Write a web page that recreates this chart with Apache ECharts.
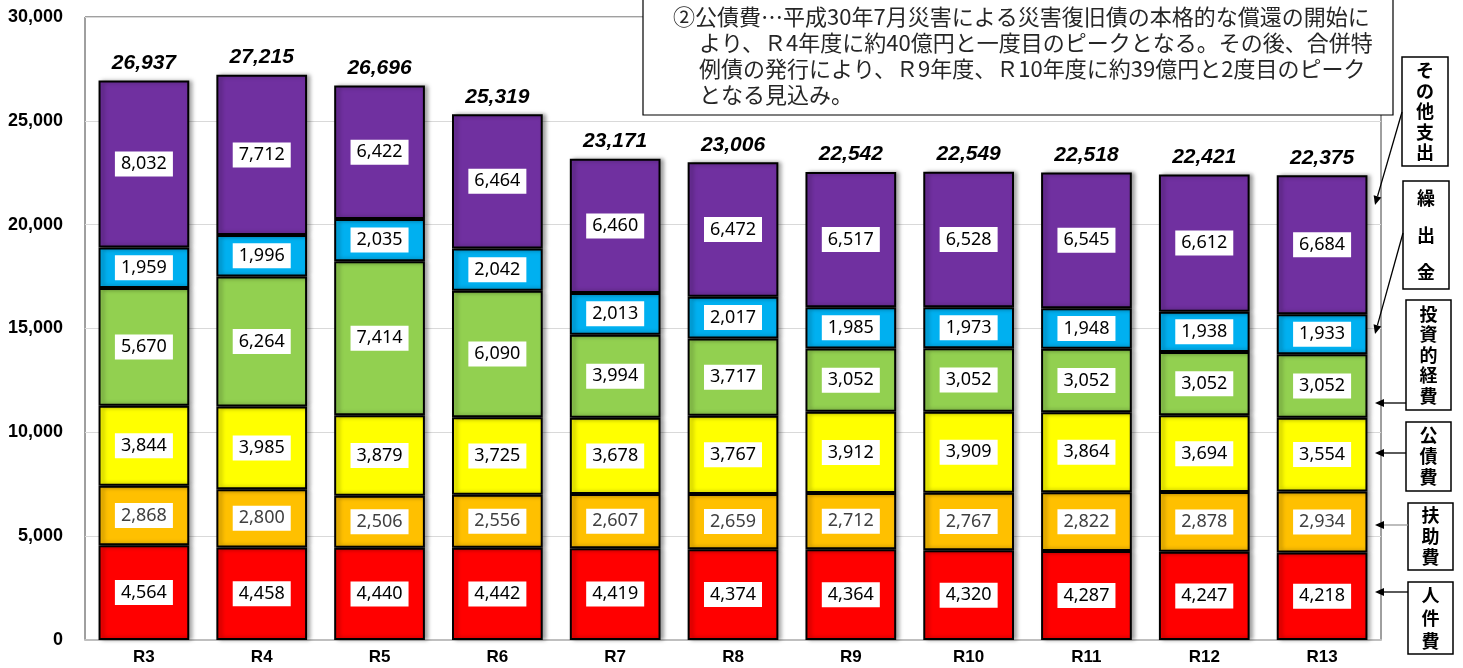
<!DOCTYPE html>
<html>
<head>
<meta charset="utf-8">
<script src="https://cdn.jsdelivr.net/npm/echarts@6/dist/echarts.min.js"></script>
<style>
  html, body { margin: 0; padding: 0; background: #fff; }
  #chart { width: 1463px; height: 668px; }
</style>
</head>
<body>
<div id="chart"></div>
<script>
const years = ['R3', 'R4', 'R5', 'R6', 'R7', 'R8', 'R9', 'R10', 'R11', 'R12', 'R13']
const personnel = [4564, 4458, 4440, 4442, 4419, 4374, 4364, 4320, 4287, 4247, 4218]
const assistance = [2868, 2800, 2506, 2556, 2607, 2659, 2712, 2767, 2822, 2878, 2934]
const debt = [3844, 3985, 3879, 3725, 3678, 3767, 3912, 3909, 3864, 3694, 3554]
const investment = [5670, 6264, 7414, 6090, 3994, 3717, 3052, 3052, 3052, 3052, 3052]
const transfer = [1959, 1996, 2035, 2042, 2013, 2017, 1985, 1973, 1948, 1938, 1933]
const other = [8032, 7712, 6422, 6464, 6460, 6472, 6517, 6528, 6545, 6612, 6684]
const totals = [26937, 27215, 26696, 25319, 23171, 23006, 22542, 22549, 22518, 22421, 22375]

const noteLines = [
  '②公債費…平成30年7月災害による災害復旧債の本格的な償還の開始に',
  'より、Ｒ4年度に約40億円と一度目のピークとなる。その後、合併特',
  '例債の発行により、Ｒ9年度、Ｒ10年度に約39億円と2度目のピーク',
  'となる見込み。'
]

const fmt = v => v.toLocaleString('en-US')

function segment(name, data, color, textColor) {
  return {
    name: name,
    type: 'bar',
    stack: 'total',
    barCategoryGap: '23%',
    data: data,
    itemStyle: {
      color: color,
      borderColor: '#000',
      borderWidth: 2,
      shadowColor: 'rgba(0,0,0,0.35)',
      shadowBlur: 4,
      shadowOffsetX: 3
    },
    label: {
      show: true,
      position: 'inside',
      formatter: p => fmt(p.value),
      backgroundColor: '#fff',
      padding: [4, 6, 3, 6],
      color: textColor || '#000',
      fontSize: 18,
      fontFamily: 'Noto Sans, sans-serif'
    }
  }
}

// arrow from legend box to the R13 bar
function arrow(x1, y1, x2, y2, color) {
  const a = Math.atan2(y2 - y1, x2 - x1)
  const L = 9, W = 4
  const c = Math.cos(a), s = Math.sin(a)
  return [
    { type: 'line', z: 100, shape: { x1: x1, y1: y1, x2: x2 - L * c, y2: y2 - L * s }, style: { stroke: color, lineWidth: 1.3 } },
    { type: 'polygon', z: 100, shape: { points: [[x2, y2], [x2 - L * c + W * s, y2 - L * s - W * c], [x2 - L * c - W * s, y2 - L * s + W * c]] }, style: { fill: '#000' } }
  ]
}

function tag(x, y, w, h, text, lh) {
  return [
    { type: 'rect', z: 100, shape: { x: x, y: y, width: w, height: h }, style: { fill: '#fff', stroke: '#000', lineWidth: 1.5 } },
    { type: 'text', z: 101, style: {
      text: text.split('').join('\n'), x: x + w / 2, y: y + h / 2,
      align: 'center', verticalAlign: 'middle', lineHeight: lh,
      fontSize: 18, fontWeight: 'bold', fontFamily: 'Noto Sans CJK JP', fill: '#000'
    } }
  ]
}

const graphics = [
  { type: 'rect', z: 100, shape: { x: 643, y: -2, width: 750, height: 117 }, style: { fill: '#fff', stroke: '#000', lineWidth: 1.2 } }
]
noteLines.forEach((t, i) => {
  graphics.push({ type: 'text', z: 101, style: {
    text: t, x: i === 0 ? 673 : 699, y: 17 + i * 26, verticalAlign: 'middle',
    fontSize: 22, fontFamily: 'Noto Sans CJK JP', fill: '#262626'
  } })
})
graphics.push(
  ...tag(1402, 57, 46, 109, 'その他支出', 20.5),
  ...tag(1403, 181, 46, 108, '繰出金', 37),
  ...tag(1406, 300, 45, 110, '投資的経費', 20.5),
  ...tag(1406, 422, 45, 69, '公債費', 21),
  ...tag(1408, 503, 45, 67, '扶助費', 21),
  ...tag(1408, 582, 45, 72, '人件費', 23),
  ...arrow(1402, 112, 1375, 205, '#000'),
  ...arrow(1403, 233, 1375, 334, '#000'),
  ...arrow(1406, 403, 1375, 403, '#000'),
  ...arrow(1406, 453, 1375, 453, '#000'),
  ...arrow(1408, 525, 1375, 525, '#999'),
  ...arrow(1408, 592, 1375, 592, '#000')
)

const chart = echarts.init(document.getElementById('chart'))
const option = {
  animation: false,
  grid: {
    left: 85,
    right: 82,
    top: 17,
    bottom: 28,
    show: true,
    borderColor: '#404040',
    borderWidth: 1
  },
  xAxis: {
    type: 'category',
    data: years,
    axisLine: { lineStyle: { color: '#bfbfbf', width: 2 } },
    axisTick: { show: false },
    axisLabel: { color: '#000', fontSize: 17, fontWeight: 'bold', fontFamily: 'Liberation Sans', margin: 9 }
  },
  yAxis: {
    type: 'value',
    min: 0,
    max: 30000,
    interval: 5000,
    axisLine: { show: false },
    axisTick: { show: false },
    splitLine: { lineStyle: { color: '#d9d9d9' } },
    axisLabel: { color: '#000', fontSize: 18, fontWeight: 'bold', fontFamily: 'Liberation Sans', margin: 22, formatter: v => fmt(v) }
  },
  series: [
    segment('人件費', personnel, '#ff0000'),
    segment('扶助費', assistance, '#ffc000', '#404040'),
    segment('公債費', debt, '#ffff00'),
    segment('投資的経費', investment, '#92d050'),
    segment('繰出金', transfer, '#00b0f0'),
    segment('その他支出', other, '#7030a0'),
    {
      // totals above each bar
      name: '合計',
      type: 'line',
      data: totals,
      symbol: 'circle',
      symbolSize: 2,
      showSymbol: true,
      silent: true,
      itemStyle: { color: 'rgba(0,0,0,0)' },
      lineStyle: { width: 0, color: 'rgba(0,0,0,0)' },
      z: 10,
      label: {
        show: true,
        position: 'top',
        distance: 6,
        formatter: p => fmt(p.value),
        color: '#000',
        fontSize: 21,
        fontWeight: 'bold',
        fontStyle: 'italic',
        fontFamily: 'Liberation Sans'
      }
    }
  ],
  graphic: graphics
}
chart.setOption(option)

window.addEventListener('resize', function() {
  chart.resize()
})
</script>
</body>
</html>
